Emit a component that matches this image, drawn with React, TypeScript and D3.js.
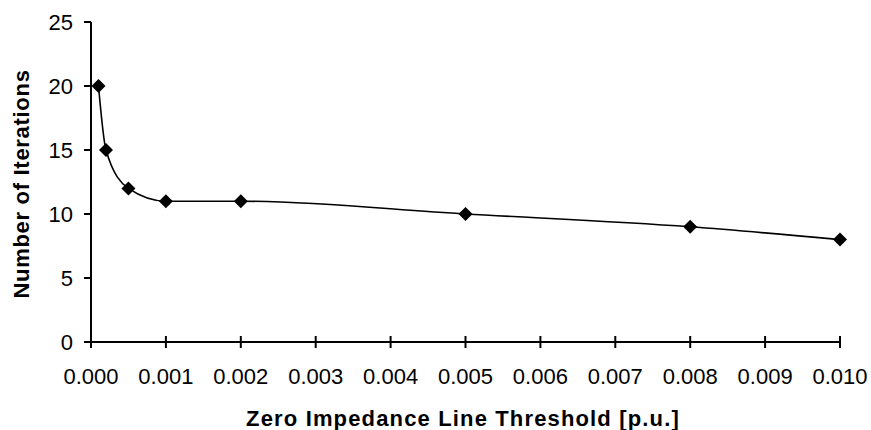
import React from "react";
import * as d3 from "d3";

const thresholds = [0.0001, 0.0002, 0.0005, 0.001, 0.002, 0.005, 0.008, 0.01];
const iterations = [20, 15, 12, 11, 11, 10, 9, 8];
const xTicks = [0, 0.001, 0.002, 0.003, 0.004, 0.005, 0.006, 0.007, 0.008, 0.009, 0.01];
const yTicks = [0, 5, 10, 15, 20, 25];

const W = 871;
const H = 430;
const left = 91;
const right = 840;
const top = 22;
const bottom = 342;

export default function App() {
  const x = d3.scaleLinear().domain([0, 0.01]).range([left, right]);
  const y = d3.scaleLinear().domain([0, 25]).range([bottom, top]);
  const pts: [number, number][] = thresholds.map((t, i) => [x(t), y(iterations[i])]);
  const line = d3.line().curve(d3.curveMonotoneX)(pts) || "";
  const font = "Arial, 'Liberation Sans', sans-serif";
  const diamond = (cx: number, cy: number) => {
    const r = 7;
    return `M${cx},${cy - r}L${cx + r},${cy}L${cx},${cy + r}L${cx - r},${cy}Z`;
  };
  return (
    <svg width={W} height={H} style={{ position: "absolute", left: 0, top: 0, background: "#fff" }} fontFamily={font}>
      <line x1={left} x2={left} y1={top} y2={bottom} stroke="#000" strokeWidth={2} />
      <line x1={left} x2={right} y1={bottom} y2={bottom} stroke="#000" strokeWidth={2} />
      {yTicks.map((t) => (
        <g key={"y" + t}>
          <line x1={left - 7} x2={left} y1={y(t)} y2={y(t)} stroke="#000" strokeWidth={2} />
          <text x={73} y={y(t)} dy="0.36em" textAnchor="end" fontSize={22} fill="#000">
            {t}
          </text>
        </g>
      ))}
      {xTicks.map((t) => (
        <g key={"x" + t}>
          <line x1={x(t)} x2={x(t)} y1={bottom - 6} y2={bottom + 6} stroke="#000" strokeWidth={2} />
          <text x={x(t)} y={384} textAnchor="middle" fontSize={22} fill="#000">
            {d3.format(".3f")(t)}
          </text>
        </g>
      ))}
      <path d={line} fill="none" stroke="#000" strokeWidth={1.6} />
      {pts.map(([cx, cy], i) => (
        <path key={i} d={diamond(cx, cy)} fill="#000" />
      ))}
      <text x={463} y={426} textAnchor="middle" fontSize={22} fontWeight="bold" letterSpacing={1.15} fill="#000">
        Zero Impedance Line Threshold [p.u.]
      </text>
      <text
        transform={`translate(29,184) rotate(-90)`}
        textAnchor="middle"
        fontSize={22}
        fontWeight="bold"
        letterSpacing={0.7}
        fill="#000"
      >
        Number of Iterations
      </text>
    </svg>
  );
}
